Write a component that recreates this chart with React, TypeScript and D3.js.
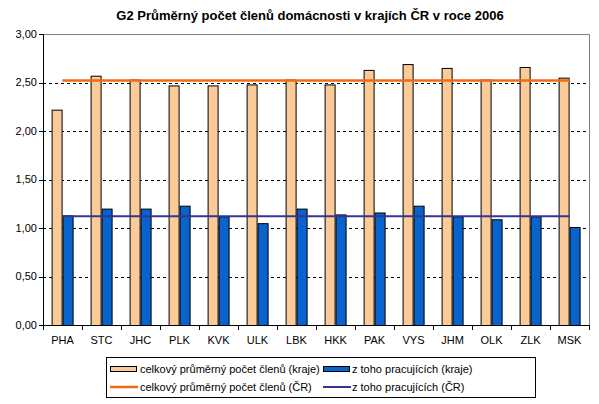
import * as d3 from "d3";

const categories = ["PHA", "STC", "JHC", "PLK", "KVK", "ULK", "LBK", "HKK", "PAK", "VYS", "JHM", "OLK", "ZLK", "MSK"];
const totalRegions = [2.22, 2.57, 2.53, 2.47, 2.47, 2.48, 2.53, 2.48, 2.63, 2.69, 2.65, 2.53, 2.66, 2.55];
const workingRegions = [1.13, 1.2, 1.2, 1.23, 1.12, 1.05, 1.2, 1.14, 1.16, 1.23, 1.12, 1.09, 1.12, 1.01];
const totalCR = 2.52;
const workingCR = 1.12;
const yTicks = [0, 0.5, 1, 1.5, 2, 2.5, 3];
const title = "G2 Průměrný počet členů domácnosti v krajích ČR v roce 2006";
const legendLabels = [
  "celkový průměrný počet členů (kraje)",
  "z toho pracujících (kraje)",
  "celkový průměrný počet členů (ČR)",
  "z toho pracujících (ČR)",
];

const width = 599;
const height = 404;
const marginLeft = 43;
const marginRight = 10;
const marginTop = 34;
const plotBottom = 325;
const font = "Arial, 'Liberation Sans', sans-serif";
const orangeFill = "#FACA98";
const blueFill = "#0863CC";
const orangeLine = "#F06A14";
const navyLine = "#343493";

export default function App() {
  const x = d3.scaleBand(categories, [marginLeft, width - marginRight]);
  const xs = d3.scaleBand(["total", "working"], [8.6, 30.6]);
  const y = d3.scaleLinear([0, 3], [plotBottom, marginTop]);
  const fmt = (v: number) => d3.format(".2f")(v).replace(".", ",");
  const hline = (v: number) =>
    d3.line<string>((c) => x(c)! + x.bandwidth() / 2, () => y(v))([categories[0], categories[categories.length - 1]])!;
  const right = width - marginRight;

  return (
    <svg width={width} height={height} style={{ position: "absolute", left: 0, top: 0, background: "#fff" }} fontFamily={font}>
      <text x={310} y={20} textAnchor="middle" fontSize={13} fontWeight="bold">{title}</text>

      {/* gridlines */}
      {yTicks.filter((t) => t > 0 && t < 3).map((t) => (
        <line key={t} x1={marginLeft} x2={right} y1={Math.round(y(t)) + 0.5} y2={Math.round(y(t)) + 0.5} stroke="#000" strokeDasharray="3,3" />
      ))}
      {/* plot border top/right */}
      <path d={`M${marginLeft},${y(3) + 0.5}H${right + 0.5}V${plotBottom}`} fill="none" stroke="#808080" />

      {/* bars */}
      {categories.map((c, i) => (
        <g key={c}>
          <rect x={x(c)! + xs("total")! + 0.5} y={y(totalRegions[i]) + 0.5} width={xs.bandwidth() - 1} height={plotBottom - y(totalRegions[i])} fill={orangeFill} stroke="#000" />
          <rect x={x(c)! + xs("working")! + 0.5} y={y(workingRegions[i]) + 0.5} width={xs.bandwidth() - 1} height={plotBottom - y(workingRegions[i])} fill={blueFill} stroke="#000" />
        </g>
      ))}

      {/* reference lines */}
      <path d={hline(totalCR)} stroke={orangeLine} strokeWidth={2.5} fill="none" />
      <path d={hline(workingCR)} stroke={navyLine} strokeWidth={2} fill="none" />

      {/* y axis */}
      <line x1={marginLeft + 0.5} x2={marginLeft + 0.5} y1={marginTop} y2={plotBottom} stroke="#000" />
      {yTicks.map((t) => (
        <g key={t}>
          <line x1={marginLeft - 4} x2={marginLeft} y1={Math.round(y(t)) + 0.5} y2={Math.round(y(t)) + 0.5} stroke="#000" />
          <text x={37} y={y(t)} dy="0.35em" textAnchor="end" fontSize={11}>{fmt(t)}</text>
        </g>
      ))}

      {/* x axis */}
      <line x1={marginLeft} x2={right + 1} y1={plotBottom + 0.5} y2={plotBottom + 0.5} stroke="#000" />
      {[...categories.map((c) => x(c)!), right].map((px, i) => (
        <line key={i} x1={Math.round(px) + 0.5} x2={Math.round(px) + 0.5} y1={plotBottom} y2={plotBottom + 5} stroke="#000" />
      ))}
      {categories.map((c) => (
        <text key={c} x={x(c)! + x.bandwidth() / 2} y={344} textAnchor="middle" fontSize={11}>{c}</text>
      ))}

      {/* legend */}
      <rect x={106.5} y={357.5} width={429} height={40} fill="#fff" stroke="#000" />
      <rect x={110.5} y={366.5} width={26} height={5} fill={orangeFill} stroke="#000" />
      <text x={140} y={369} dy="0.35em" fontSize={11}>{legendLabels[0]}</text>
      <rect x={323.5} y={366.5} width={26} height={5} fill={blueFill} stroke="#000" />
      <text x={352} y={369} dy="0.35em" fontSize={11}>{legendLabels[1]}</text>
      <line x1={110} x2={138} y1={387} y2={387} stroke={orangeLine} strokeWidth={2.5} />
      <text x={140} y={387} dy="0.35em" fontSize={11}>{legendLabels[2]}</text>
      <line x1={323} x2={351} y1={387} y2={387} stroke={navyLine} strokeWidth={2} />
      <text x={352} y={387} dy="0.35em" fontSize={11}>{legendLabels[3]}</text>
    </svg>
  );
}
